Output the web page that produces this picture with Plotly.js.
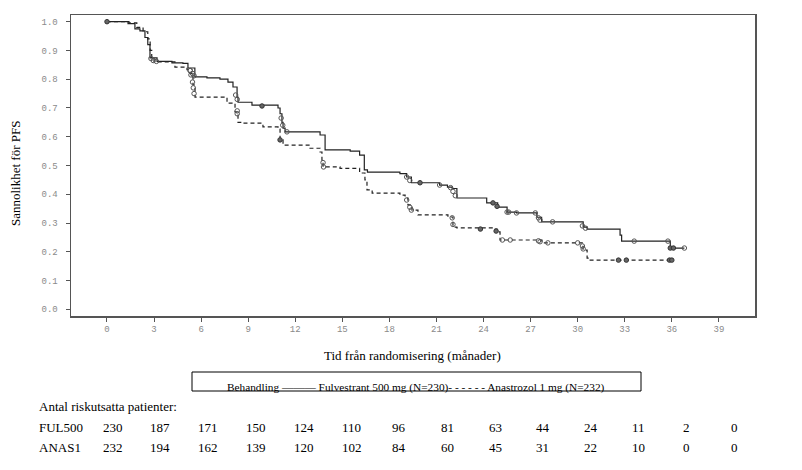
<!DOCTYPE html>
<html>
<head>
<meta charset="utf-8">
<script src="https://cdn.plot.ly/plotly-3.0.1.min.js"></script>
<style>html,body{margin:0;padding:0;background:#fff;}#chart{width:802px;height:470px;}</style>
</head>
<body>
<div id="chart"></div>
<script>
// ---- data ----
const monthTicks = [0,3,6,9,12,15,18,21,24,27,30,33,36,39];
const yTicks = [0,0.1,0.2,0.3,0.4,0.5,0.6,0.7,0.8,0.9,1.0];

const fulTime = [0,1.34,1.78,2.1,2.42,2.6,2.74,3.19,4.14,4.84,5.16,5.6,6.37,7.2,7.71,8.03,8.29,8.35,9.24,10.9,11.03,11.15,11.22,11.35,13.58,13.9,15.5,16.1,16.4,16.6,18.67,19.1,19.4,21.2,21.7,22.0,22.3,24.2,24.9,25.5,26.1,27.4,27.7,30.35,30.6,32.7,32.8,35.9,36.8];
const fulSurv = [1.0,0.993,0.975,0.968,0.945,0.92,0.874,0.862,0.857,0.855,0.839,0.808,0.805,0.80,0.79,0.773,0.738,0.72,0.71,0.70,0.68,0.65,0.63,0.617,0.606,0.554,0.55,0.536,0.485,0.477,0.472,0.46,0.44,0.432,0.425,0.42,0.387,0.37,0.355,0.338,0.335,0.32,0.304,0.286,0.279,0.258,0.237,0.213,0.213];

const anaTime = [0,1.4,1.9,2.3,2.6,2.75,2.85,3.0,4.33,5.1,5.29,5.48,5.61,7.65,8.16,8.29,8.35,8.6,9.94,10.9,11.03,11.22,12.94,13.58,13.7,13.77,14.85,16.1,16.44,16.57,16.9,18.67,19.0,19.18,19.44,19.82,21.73,22.05,22.3,24.73,24.86,25.05,27.72,30.34,30.6,30.66,36.0];
const anaSurv = [1.0,0.996,0.98,0.965,0.94,0.90,0.87,0.86,0.842,0.833,0.82,0.78,0.738,0.717,0.686,0.675,0.65,0.647,0.634,0.627,0.589,0.571,0.56,0.547,0.519,0.495,0.49,0.474,0.45,0.415,0.404,0.397,0.387,0.363,0.345,0.328,0.321,0.286,0.283,0.279,0.269,0.241,0.231,0.206,0.178,0.171,0.171];

const fulCensOpenT = [2.8,2.95,3.15,5.3,5.45,5.55,8.2,8.3,11.1,11.2,11.47,19.1,19.3,21.2,21.9,22.05,22.2,25.5,25.6,26.1,27.3,27.5,27.6,28.4,30.3,30.5,33.6,35.75,36.8];
const fulCensOpenS = [0.872,0.865,0.862,0.83,0.82,0.812,0.745,0.73,0.665,0.64,0.617,0.46,0.448,0.432,0.423,0.41,0.395,0.338,0.338,0.335,0.335,0.318,0.31,0.304,0.29,0.282,0.237,0.237,0.213];
const fulCensFillT = [0,9.88,19.95,24.6,24.86,35.9,36.1];
const fulCensFillS = [1.0,0.707,0.44,0.37,0.358,0.213,0.213];

const anaCensOpenT = [5.3,5.35,5.45,5.5,5.55,8.3,8.3,13.77,13.8,19.1,19.3,19.4,22.0,22.05,25.2,25.7,27.5,27.6,28.1,30.0,30.3,30.35];
const anaCensOpenS = [0.83,0.815,0.79,0.77,0.75,0.69,0.68,0.51,0.495,0.38,0.355,0.345,0.318,0.295,0.241,0.241,0.238,0.235,0.231,0.231,0.22,0.21];
const anaCensFillT = [11.03,23.8,24.8,32.6,33.1,35.85,36.0];
const anaCensFillS = [0.589,0.279,0.272,0.171,0.171,0.171,0.171];

const riskHeader = 'Antal riskutsatta patienter:';
const groupLabels = ['FUL500','ANAS1'];
const riskFul = [230,187,171,150,124,110,96,81,63,44,24,11,2,0];
const riskAna = [232,194,162,139,120,102,84,60,45,31,22,10,0,0];

const yTitle = 'Sannolikhet för PFS';
const xTitle = 'Tid från randomisering (månader)';
const legendText = 'Behandling ——— Fulvestrant 500 mg (N=230)- - - - - - Anastrozol 1 mg (N=232)';

// ---- layout geometry (pixels) ----
const W = 802, H = 470;
const M = {l:71, r:47, t:15, b:154};
const PW = W - M.l - M.r, PH = H - M.t - M.b;
const px = v => (v - M.l) / PW;          // pixel x -> paper
const py = v => (H - M.b - v) / PH;       // pixel y -> paper

const serif = 'Liberation Serif, Times New Roman, serif';
const mono = 'Liberation Mono, Courier New, monospace';

const traces = [
  {x: fulTime, y: fulSurv, type:'scatter', mode:'lines', line:{shape:'hv', color:'#222', width:1.2}, hoverinfo:'skip'},
  {x: anaTime, y: anaSurv, type:'scatter', mode:'lines', line:{shape:'hv', color:'#222', width:1.2, dash:'4px,3px'}, hoverinfo:'skip'},
  {x: fulCensOpenT, y: fulCensOpenS, type:'scatter', mode:'markers', marker:{symbol:'circle-open', size:4.5, color:'#555', line:{width:1}}},
  {x: anaCensOpenT, y: anaCensOpenS, type:'scatter', mode:'markers', marker:{symbol:'circle-open', size:4.5, color:'#555', line:{width:1}}},
  {x: fulCensFillT, y: fulCensFillS, type:'scatter', mode:'markers', marker:{symbol:'circle', size:4.5, color:'#666', line:{width:1, color:'#333'}}},
  {x: anaCensFillT, y: anaCensFillS, type:'scatter', mode:'markers', marker:{symbol:'circle', size:4.5, color:'#666', line:{width:1, color:'#333'}}}
];

const annotations = [];
annotations.push({xref:'paper', yref:'paper', x:px(15), y:py(174), text:yTitle, textangle:-90, showarrow:false, xanchor:'center', yanchor:'middle', font:{family:serif, size:13, color:'#000'}});
annotations.push({xref:'paper', yref:'paper', x:px(412), y:py(355), text:xTitle, showarrow:false, xanchor:'center', yanchor:'middle', font:{family:serif, size:13, color:'#000'}});
annotations.push({xref:'paper', yref:'paper', x:px(416), y:py(387), text:legendText, showarrow:false, xanchor:'center', yanchor:'middle', font:{family:serif, size:11.3, color:'#000'}});
annotations.push({xref:'paper', yref:'paper', x:px(37), y:py(406), text:riskHeader, showarrow:false, xanchor:'left', yanchor:'middle', font:{family:serif, size:13, color:'#000'}});
[riskFul, riskAna].forEach((row, r) => {
  const yy = py(r === 0 ? 427 : 447);
  annotations.push({xref:'paper', yref:'paper', x:px(37), y:yy, text:groupLabels[r], showarrow:false, xanchor:'left', yanchor:'middle', font:{family:serif, size:13, color:'#000'}});
  row.forEach((n, k) => {
    annotations.push({xref:'paper', yref:'paper', x:px(112.6 + k*47.8), y:yy, text:String(n), showarrow:false, xanchor:'center', yanchor:'middle', font:{family:serif, size:13, color:'#000'}});
  });
});

const layout = {
  width: W, height: H,
  margin: M,
  paper_bgcolor:'#fff', plot_bgcolor:'#fff',
  showlegend:false,
  xaxis:{range:[-2.294, 41.3], tickvals: monthTicks, ticktext: monthTicks.map(String), ticks:'outside', ticklen:4, tickcolor:'#555', tickwidth:1,
         showline:true, mirror:true, linecolor:'#555', linewidth:1.5, showgrid:false, zeroline:false,
         tickfont:{family:mono, size:9, color:'#8a8a8a'}},
  yaxis:{range:[-0.0233, 1.0233], tickvals: yTicks, tickformat:'.1f', ticks:'outside', ticklen:4, tickcolor:'#555', tickwidth:1,
         showline:true, mirror:true, linecolor:'#555', linewidth:1.5, showgrid:false, zeroline:false,
         tickfont:{family:mono, size:9, color:'#8a8a8a'}, ticklabelstandoff:6},
  shapes:[{type:'rect', xref:'paper', yref:'paper', x0:px(192), x1:px(641), y0:py(391), y1:py(372), line:{color:'#000', width:1}}],
  annotations: annotations
};

Plotly.newPlot('chart', traces, layout, {staticPlot:true, displayModeBar:false});
</script>
</body>
</html>
